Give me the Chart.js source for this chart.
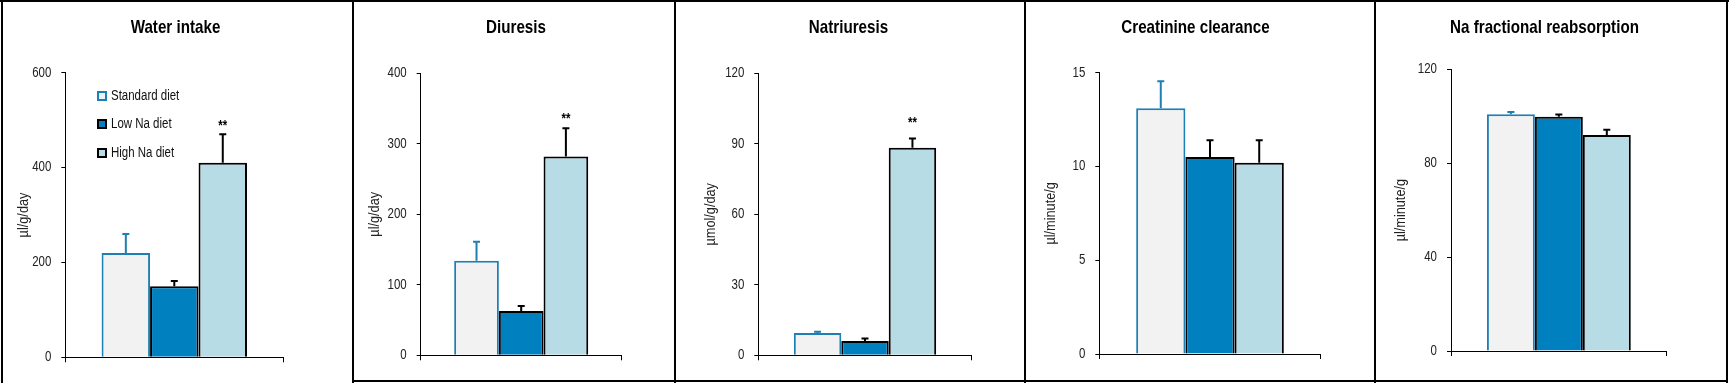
<!DOCTYPE html>
<html>
<head>
<meta charset="utf-8">
<script src="https://cdn.jsdelivr.net/npm/chart.js@4.4.1/dist/chart.umd.min.js"></script>
<style>
  html, body { margin: 0; padding: 0; background: #fff; width: 1729px; height: 383px; overflow: hidden; }
  #wrap { position: relative; width: 1729px; height: 383px; }
  canvas.c { position: absolute; top: 0; }
  .ln { position: absolute; background: #000; }
  .legsq { position: absolute; width: 6px; height: 6px; border: 2px solid #000; }
  .legtx { position: absolute; font-family: 'Liberation Sans', Arial, sans-serif; font-size: 14px; line-height: 16px; height: 16px; color: #111; white-space: nowrap; transform: scaleX(0.82); transform-origin: 0 50%; }
</style>
</head>
<body>
<div id="wrap">
  <!-- panel frame lines -->
  <div class="ln" style="left:0;top:0;width:1729px;height:2px;"></div>
  <div class="ln" style="left:1px;top:0;width:2px;height:383px;"></div>
  <div class="ln" style="left:352px;top:0;width:2px;height:383px;"></div>
  <div class="ln" style="left:674px;top:0;width:2px;height:383px;"></div>
  <div class="ln" style="left:1024px;top:0;width:2px;height:383px;"></div>
  <div class="ln" style="left:1374px;top:0;width:2px;height:383px;"></div>
  <div class="ln" style="left:1726px;top:0;width:2px;height:383px;"></div>
  <div class="ln" style="left:352px;top:380px;width:1376px;height:2px;"></div>

  <canvas class="c" id="c0" width="351" height="383" style="left:0px;width:351px;height:383px;"></canvas>
  <canvas class="c" id="c1" width="322" height="383" style="left:355px;width:322px;height:383px;"></canvas>
  <canvas class="c" id="c2" width="343" height="383" style="left:677px;width:343px;height:383px;"></canvas>
  <canvas class="c" id="c3" width="339" height="383" style="left:1026px;width:339px;height:383px;"></canvas>
  <canvas class="c" id="c4" width="337" height="383" style="left:1376px;width:337px;height:383px;"></canvas>

  <div id="legend"></div>
</div>
<script>
// ---------------- DATA ----------------
const panelTitles = ['Water intake', 'Diuresis', 'Natriuresis', 'Creatinine clearance', 'Na fractional reabsorption'];
const unitLabels  = ['\u00b5l/g/day', '\u00b5l/g/day', '\u00b5mol/g/day', '\u00b5l/minute/g', '\u00b5l/minute/g'];
const seriesNames = ['Standard diet', 'Low Na diet', 'High Na diet'];

const standardMeans = [220, 134, 9.5, 13.1, 100.8];
const standardErr   = [40, 27, 0.5, 1.45, 1.0];
const lowNaMeans    = [150, 63, 6.1, 10.5, 99.8];
const lowNaErr      = [11, 7, 1.0, 0.9, 0.9];
const highNaMeans   = [410, 282, 88.3, 10.2, 92.0];
const highNaErr     = [60, 40, 4.0, 1.2, 2.3];
const highNaSig     = ['**', '**', '**', '', ''];

const yMax  = [600, 400, 120, 15, 120];
const yStep = [200, 100, 30, 5, 40];

// ---------------- STYLE ----------------
const FONT = "'Liberation Sans', Arial, sans-serif";
const NARROW_SCALE = 0.82;
const fills   = ['#f2f2f2', '#0080be', '#b8dce6'];
const borders = ['#1f7fb3', '#000000', '#000000'];
const errCols = ['#1f7fb3', '#000000', '#000000'];

// layout per panel (canvas-relative)
const layouts = [
  { yW: 65.3, pr: 67.7, pt: 72.7, pb: 15.7, tPad: 14.7, starAt: 488 },
  { yW: 65.7, pr: 55.3, pt: 73.3, pb: 17.7, tPad: 10.7, starAt: 335 },
  { yW: 81.3, pr: 48.3, pt: 73.3, pb: 17.7, tPad: 24.4, starAt: 98.6 },
  { yW: 73.3, pr: 44.3, pt: 72.7, pb: 19.0, tPad: 15.4, starAt: 0 },
  { yW: 75.0, pr: 46.3, pt: 69.3, pb: 22.0, tPad: 15.4, starAt: 0 }
];

// condensed text: horizontally compress every string drawn on the chart canvas
const narrowText = {
  id: 'narrowText',
  beforeInit(chart) {
    const ctx = chart.ctx;
    const orig = CanvasRenderingContext2D.prototype.fillText;
    ctx.fillText = function (text, x, y, maxWidth) {
      this.save();
      this.translate(x, y);
      this.scale(NARROW_SCALE, 1);
      if (maxWidth === undefined) orig.call(this, text, 0, 0);
      else orig.call(this, text, 0, 0, maxWidth / NARROW_SCALE);
      this.restore();
    };
  }
};

const extras = {
  id: 'extras',
  afterDatasetsDraw(chart) {
    const o = chart.options.plugins.extras;
    const ctx = chart.ctx;
    const ys = chart.scales.y;
    chart.data.datasets.forEach((ds, i) => {
      const bar = chart.getDatasetMeta(i).data[0];
      const top = ys.getPixelForValue(ds.data[0] + ds.err);
      ctx.save();
      ctx.strokeStyle = ds.errColor;
      ctx.lineWidth = 2;
      ctx.lineCap = 'butt';
      ctx.beginPath();
      ctx.moveTo(bar.x, bar.y);
      ctx.lineTo(bar.x, top);
      ctx.moveTo(bar.x - 3.5, top);
      ctx.lineTo(bar.x + 3.5, top);
      ctx.stroke();
      if (ds.sig) {
        ctx.fillStyle = '#000';
        ctx.font = 'bold 14px ' + FONT;
        ctx.textAlign = 'center';
        ctx.textBaseline = 'middle';
        ctx.fillText(ds.sig, bar.x, ys.getPixelForValue(o.starAt));
      }
      ctx.restore();
    });
  },
  afterDraw(chart) {
    const o = chart.options.plugins.extras;
    const ctx = chart.ctx;
    ctx.save();
    ctx.fillStyle = '#000';
    ctx.font = 'bold 18.5px ' + FONT;
    ctx.textAlign = 'center';
    ctx.textBaseline = 'middle';
    ctx.fillText(o.title, chart.width / 2, 27.5);
    ctx.restore();
  }
};

for (let p = 0; p < 5; p++) {
  const L = layouts[p];
  const means = [standardMeans[p], lowNaMeans[p], highNaMeans[p]];
  const errs  = [standardErr[p], lowNaErr[p], highNaErr[p]];
  const sigs  = ['', '', highNaSig[p]];
  const datasets = seriesNames.map((name, i) => ({
    label: name,
    data: [means[i]],
    err: errs[i],
    sig: sigs[i],
    errColor: errCols[i],
    backgroundColor: fills[i],
    borderColor: borders[i],
    borderWidth: 2,
    borderSkipped: 'start',
    categoryPercentage: 0.667,
    barPercentage: 1.0
  }));
  new Chart(document.getElementById('c' + p), {
    type: 'bar',
    data: { labels: [''], datasets },
    plugins: [narrowText, extras],
    options: {
      responsive: false,
      animation: false,
      devicePixelRatio: 1,
      layout: { padding: { left: 0, right: L.pr, top: L.pt, bottom: L.pb } },
      plugins: {
        legend: { display: false },
        tooltip: { enabled: false },
        title: { display: false },
        extras: { title: panelTitles[p], starAt: L.starAt }
      },
      scales: {
        x: {
          afterFit: (s) => { s.height = 10; },
          grid: { display: true, drawOnChartArea: false, drawTicks: true, tickLength: 5, color: '#000', lineWidth: 1 },
          border: { display: true, color: '#000', width: 1 },
          ticks: { display: false }
        },
        y: {
          min: 0,
          max: yMax[p],
          afterFit: (s) => { s.width = L.yW; },
          ticks: {
            stepSize: yStep[p],
            padding: 10,
            color: '#222',
            font: { family: FONT, size: 14 }
          },
          grid: { display: true, drawOnChartArea: false, drawTicks: true, tickLength: 4, color: '#000', lineWidth: 1 },
          border: { display: true, color: '#000', width: 1 },
          title: {
            display: true,
            text: unitLabels[p],
            color: '#222',
            font: { family: FONT, size: 15.5 },
            padding: { top: L.tPad, bottom: 0 }
          }
        }
      }
    }
  });
}

// ---------------- LEGEND (panel 1) ----------------
const legendTops = [95.5, 124.3, 152.5];
const legendFill = ['#e9f3f7', fills[1], fills[2]];
const legendBorder = [borders[0], '#000', '#000'];
const leg = document.getElementById('legend');
seriesNames.forEach((name, i) => {
  const sq = document.createElement('div');
  sq.className = 'legsq';
  sq.style.left = '97px';
  sq.style.top = (legendTops[i] - 5) + 'px';
  sq.style.background = legendFill[i];
  sq.style.borderColor = legendBorder[i];
  leg.appendChild(sq);
  const tx = document.createElement('div');
  tx.className = 'legtx';
  tx.style.left = '110.5px';
  tx.style.top = (legendTops[i] - 9) + 'px';
  tx.textContent = name;
  leg.appendChild(tx);
});
</script>
</body>
</html>
